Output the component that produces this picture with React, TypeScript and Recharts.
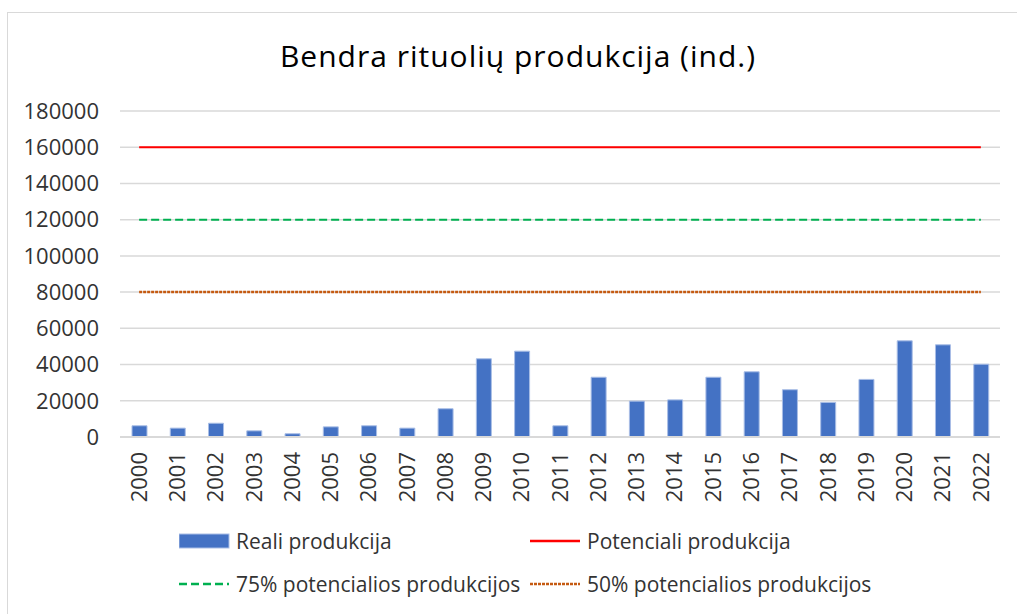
import { Bar, CartesianGrid, ComposedChart, Legend, Line, XAxis, YAxis } from "recharts"

const years = [
  "2000", "2001", "2002", "2003", "2004", "2005", "2006", "2007", "2008", "2009", "2010", "2011",
  "2012", "2013", "2014", "2015", "2016", "2017", "2018", "2019", "2020", "2021", "2022",
]
const realProduction = [
  6200, 4900, 7600, 3400, 1800, 5600, 6200, 4900, 15600, 43200, 47400, 6200,
  33000, 19800, 20500, 33000, 36000, 26100, 19100, 31800, 53100, 50900, 40200,
]
const potential = 160000
const potential75 = 120000
const potential50 = 80000
const yTicks = [0, 20000, 40000, 60000, 80000, 100000, 120000, 140000, 160000, 180000]

const data = years.map((year, i) => ({
  year,
  real: realProduction[i],
  potential,
  potential75,
  potential50,
}))

const FONT = "'Open Sans', sans-serif"
const TEXT = "#333333"

const legendItems = [
  { key: "real", label: "Reali produkcija", color: "#4472C4", kind: "bar", dash: "" },
  { key: "potential", label: "Potenciali produkcija", color: "#FF0000", kind: "line", dash: "" },
  { key: "potential75", label: "75% potencialios produkcijos", color: "#00B050", kind: "line", dash: "8 4" },
  { key: "potential50", label: "50% potencialios produkcijos", color: "#C55A11", kind: "line", dash: "3 1" },
]

function YearTick(props: any) {
  const { x, y, payload } = props
  return (
    <g transform={`translate(${x},${y})`}>
      <text
        transform="rotate(-90)"
        x={-15}
        dy="0.35em"
        textAnchor="end"
        fill={TEXT}
        fontSize={22}
        fontFamily={FONT}
      >
        {payload.value}
      </text>
    </g>
  )
}

function ChartLegend() {
  return (
    <div style={{ position: "relative", width: 1017, height: 90, fontFamily: FONT, fontSize: 21, color: TEXT }}>
      {legendItems.map((item, i) => {
        const left = i % 2 === 0 ? 179 : 530
        const top = i < 2 ? -2 : 41
        return (
          <div key={item.key} style={{ position: "absolute", left, top, height: 30, display: "flex", alignItems: "center" }}>
            <svg width={52} height={16} style={{ marginRight: 5 }}>
              {item.kind === "bar" ? (
                <rect x={0} y={1} width={50} height={14} fill={item.color} stroke="#A9BEE6" />
              ) : (
                <line x1={0} y1={8} x2={50} y2={8} stroke={item.color} strokeWidth={2.5} strokeDasharray={item.dash} />
              )}
            </svg>
            <span style={{ whiteSpace: "nowrap" }}>{item.label}</span>
          </div>
        )
      })}
    </div>
  )
}

export default function App() {
  return (
    <div style={{ position: "absolute", left: 0, top: 0, width: 1017, height: 614, background: "#fff", overflow: "hidden" }}>
      <div
        style={{
          position: "absolute",
          left: 7,
          top: 12,
          width: 1030,
          height: 620,
          border: "1px solid #D9D9D9",
        }}
      />
      <div
        style={{
          position: "absolute",
          left: 0,
          top: 35,
          width: 1036,
          textAlign: "center",
          fontFamily: FONT,
          fontSize: 30,
          letterSpacing: 1,
          lineHeight: "normal",
          color: "#000",
        }}
      >
        Bendra rituolių produkcija (ind.)
      </div>
      <div style={{ position: "absolute", left: 0, top: 0 }}>
        <ComposedChart
          width={1017}
          height={614}
          data={data}
          margin={{ top: 111, right: 17, bottom: 107, left: 0 }}
          barCategoryGap={0}
        >
          <CartesianGrid vertical={false} stroke="#D9D9D9" strokeWidth={1.5} />
          <XAxis
            dataKey="year"
            height={70}
            tickLine={false}
            tickSize={0}
            tickMargin={0}
            axisLine={{ stroke: "#D9D9D9", strokeWidth: 2 }}
            tick={<YearTick />}
            interval={0}
          />
          <YAxis
            width={120}
            domain={[0, 180000]}
            ticks={yTicks}
            axisLine={false}
            tickLine={false}
            tickSize={0}
            tickMargin={21}
            tick={{ fill: TEXT, fontSize: 22, fontFamily: FONT }}
            interval={0}
          />
          <Bar dataKey="real" fill="#4472C4" stroke="#A9BEE6" strokeWidth={1} barSize={15} isAnimationActive={false} />
          <Line dataKey="potential" stroke="#FF0000" strokeWidth={2} dot={false} activeDot={false} isAnimationActive={false} />
          <Line dataKey="potential75" stroke="#00B050" strokeWidth={2} strokeDasharray="8 4" dot={false} activeDot={false} isAnimationActive={false} />
          <Line dataKey="potential50" stroke="#C55A11" strokeWidth={2.5} strokeDasharray="3 1" dot={false} activeDot={false} isAnimationActive={false} />
          <Legend
            layout="horizontal"
            verticalAlign="middle"
            content={() => <ChartLegend />}
            wrapperStyle={{ position: "absolute", left: 0, top: 528, width: 1017 }}
          />
        </ComposedChart>
      </div>
    </div>
  )
}
